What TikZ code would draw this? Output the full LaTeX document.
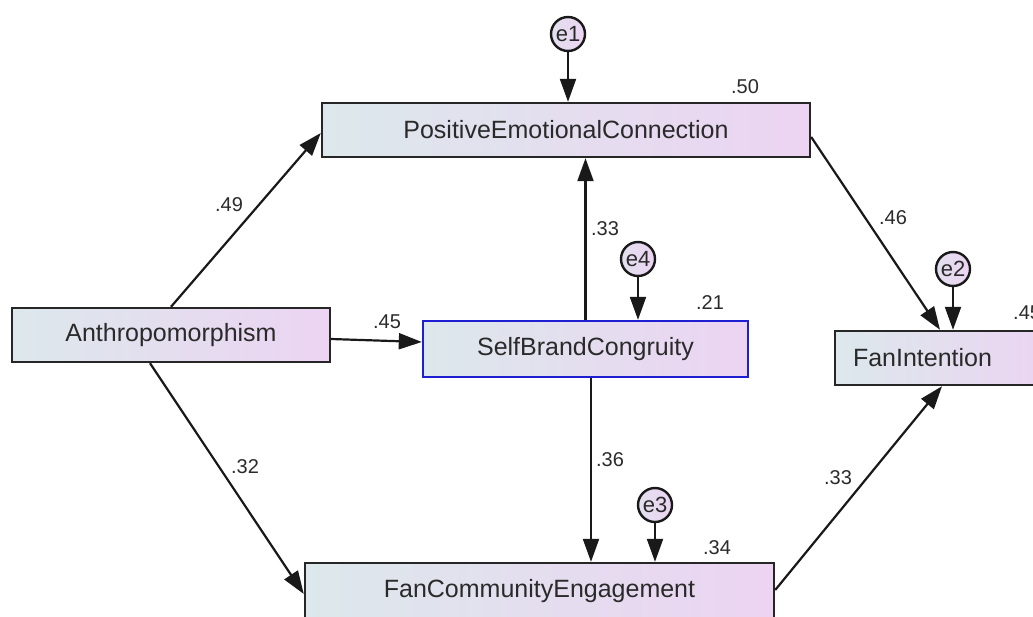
\documentclass[tikz,border=0pt]{standalone}
\usepackage{fontspec}
\setmainfont{Liberation Sans}
\usetikzlibrary{arrows.meta}
\definecolor{boxL}{HTML}{DCE8EC}
\definecolor{boxR}{HTML}{ECD4F2}
\definecolor{txt}{HTML}{2A2A2A}
\definecolor{sbcblue}{HTML}{1E1ED2}
\tikzset{
  varbox/.style={draw=black!85, line width=2.4pt, left color=boxL, right color=boxR,
    inner sep=0pt, text=txt, font=\fontsize{25}{28}\selectfont},
  errc/.style={circle, draw=black!90, line width=2.4pt, left color=boxL!60!boxR, right color=boxR,
    minimum size=34pt, inner sep=0pt, text=txt, font=\fontsize{22}{24}\selectfont},
  arr/.style={line width=2.2pt, draw=black!90, -{Triangle[length=23pt,width=16pt]}},
  coef/.style={text=txt, font=\fontsize{20}{22}\selectfont, inner sep=0pt}
}
\begin{document}
\begin{tikzpicture}[x=1pt,y=-1pt]
\useasboundingbox (0,0) rectangle (1033,616);
\clip (0,0) rectangle (1033,616);
% variables
\node[varbox, minimum width=488pt, minimum height=54pt] (PEC) at (566,130) {PositiveEmotionalConnection};
\node[varbox, minimum width=318pt, minimum height=54pt] (Anth) at (171,335) {Anthropomorphism};
\node[varbox, draw=sbcblue, minimum width=325pt, minimum height=56pt] (SBC) at (585.5,349) {SelfBrandCongruity};
\node[varbox, minimum width=220pt, minimum height=54pt, text width=200pt, align=left] (FI) at (945,358) {\hspace{8pt}FanIntention};
\node[varbox, minimum width=469pt, minimum height=56pt] (FCE) at (539.5,591) {FanCommunityEngagement};
% errors
\node[errc] (e1) at (568,34) {e1};
\node[errc] (e4) at (638,259) {e4};
\node[errc] (e2) at (953,269) {e2};
\node[errc] (e3) at (655,505) {e3};
% paths
\draw[arr] (e1.south) -- (e1.south |- PEC.north);
\draw[arr] (e4.south) -- (e4.south |- SBC.north);
\draw[arr] (e2.south) -- (e2.south |- FI.north);
\draw[arr] (e3.south) -- (e3.south |- FCE.north);
\draw[arr] (Anth.north) -- ([yshift=-3pt]PEC.west);
\draw[arr] ([yshift=-4pt]Anth.east) -- ([yshift=7pt]SBC.west);
\draw[arr] ([xshift=-21pt]Anth.south) -- ([yshift=-3pt]FCE.west);
\draw[arr] (SBC.north) -- (SBC.north |- PEC.south);
\draw[arr] ([xshift=5.5pt]SBC.south) -- ([xshift=5.5pt]SBC.south |- FCE.north);
\draw[arr] ([yshift=-7pt]PEC.east) -- ([xshift=-5pt]FI.north);
\draw[arr] ([yshift=1pt]FCE.east) -- ([xshift=-3pt]FI.south);
% coefficients
\node[coef] (c50) at (745,87) {.50};
\node[coef] (c49) at (229,205) {.49};
\node[coef] (c33a) at (605,229) {.33};
\node[coef] (c46) at (893,218) {.46};
\node[coef] (c21) at (710,303) {.21};
\node[coef] (c45a) at (387,322) {.45};
\node[coef, anchor=west] (c45b) at (1013,313) {.45};
\node[coef] (c32) at (245,467) {.32};
\node[coef] (c36) at (610,460) {.36};
\node[coef] (c33b) at (838,478) {.33};
\node[coef] (c34) at (717,548) {.34};
\end{tikzpicture}
\end{document}
